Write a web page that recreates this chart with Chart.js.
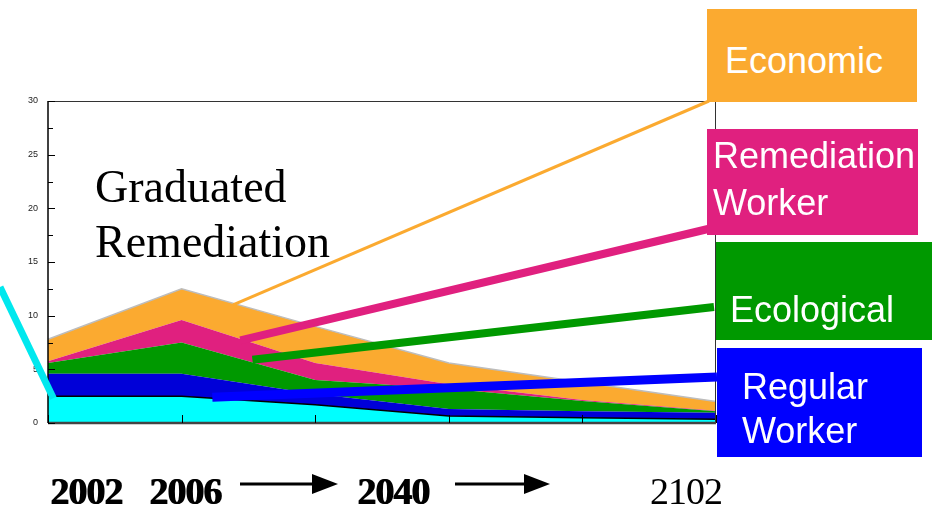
<!DOCTYPE html>
<html>
<head>
<meta charset="utf-8">
<script src="https://cdn.jsdelivr.net/npm/chart.js@4/dist/chart.umd.min.js"></script>
<style>
  html, body { margin: 0; padding: 0; background: #fff; }
  #wrap { position: relative; width: 942px; height: 519px; overflow: hidden; }
  #chart { position: absolute; left: 0; top: 0; }
  .title { position: absolute; left: 95px; top: 159px; font-family: 'Liberation Serif', 'Times New Roman', serif; font-size: 46px; line-height: 55px; color: #000; }
  .box { position: absolute; }
  .box span { position: absolute; font-family: 'Liberation Sans', Arial, sans-serif; font-size: 36px; line-height: 47px; color: #fff; white-space: nowrap; }
  .year { position: absolute; top: 468px; font-family: 'Liberation Serif', 'Times New Roman', serif; font-size: 38px; line-height: 46px; color: #000; letter-spacing: -1px; }
  .bold { font-weight: bold; text-shadow: 1px 0 0 #000; }
  #arrows { position: absolute; left: 0; top: 0; }
</style>
</head>
<body>
<div id="wrap">
  <canvas id="chart" width="942" height="519"></canvas>
  <div class="title">Graduated<br>Remediation</div>

  <div class="box" style="left:707px;top:9px;width:210px;height:93px;background:#fbaa30;">
    <span style="left:18px;top:28px;">Economic</span>
  </div>
  <div class="box" style="left:707px;top:129px;width:211px;height:106px;background:#e0207f;">
    <span style="left:6px;top:3px;">Remediation<br>Worker</span>
  </div>
  <div class="box" style="left:716px;top:242px;width:216px;height:98px;background:#009900;">
    <span style="left:14px;top:44px;">Ecological</span>
  </div>
  <div class="box" style="left:717px;top:348px;width:205px;height:109px;background:#0000ff;">
    <span style="left:25px;top:17px;line-height:44px;">Regular<br>Worker</span>
  </div>

  <div class="year bold" style="left:50px;">2002</div>
  <div class="year bold" style="left:149px;">2006</div>
  <div class="year bold" style="left:357px;">2040</div>
  <div class="year" style="left:650px;">2102</div>
  <svg id="arrows" width="942" height="519">
    <line x1="240" y1="484" x2="314" y2="484" stroke="#000" stroke-width="3"/>
    <polygon points="312,474 338,484 312,494" fill="#000"/>
    <line x1="455" y1="484" x2="526" y2="484" stroke="#000" stroke-width="3"/>
    <polygon points="524,474 550,484 524,494" fill="#000"/>
  </svg>
</div>
<script>
// six points along the time line (stacked layers)
const categories = ['2002', '2006', '2020', '2040', '2070', '2102'];
const regularBase = [2.5, 2.5, 1.7, 0.65, 0.5, 0.35];
const regularWorker = [2.1, 2.1, 1.0, 0.65, 0.6, 0.6];
const ecological = [1.0, 2.9, 1.3, 1.9, 0.95, 0.15];
const remediationWorker = [0.15, 2.1, 1.6, 0.4, 0.1, 0.05];
const economic = [2.05, 2.9, 3.4, 2.0, 1.65, 0.85];
const yTicks = [0, 5, 10, 15, 20, 25, 30];

// leader lines: inner end in data units (index, value), outer end at the label box
const leaders = [
  { color: '#00e8ee', width: 7, idx: 0.04, val: 2.3, to: [0, 287] },
  { color: '#fbaa30', width: 3, idx: 1.385, val: 11.0, to: [709, 101] },
  { color: '#e0207f', width: 8, idx: 1.44, val: 7.7, to: [708, 229] },
  { color: '#009900', width: 8, idx: 1.53, val: 5.9, to: [714, 307] },
  { color: '#0000ff', width: 9, idx: 1.23, val: 2.4, to: [717, 377] }
];

const frame = {
  id: 'frame',
  afterDatasetsDraw(chart) {
    const ctx = chart.ctx;
    const a = chart.chartArea;
    const x = chart.scales.x, y = chart.scales.y;
    ctx.save();
    ctx.strokeStyle = '#333';
    ctx.lineWidth = 1;
    ctx.beginPath();
    ctx.moveTo(a.left, a.top + 0.5); ctx.lineTo(a.right, a.top + 0.5);
    ctx.moveTo(a.right - 0.5, a.top); ctx.lineTo(a.right - 0.5, a.bottom);
    ctx.stroke();
    ctx.strokeStyle = '#000';
    ctx.lineWidth = 1.5;
    ctx.beginPath();
    ctx.moveTo(a.left, a.top); ctx.lineTo(a.left, a.bottom);
    ctx.stroke();
    ctx.strokeStyle = '#444';
    ctx.lineWidth = 2.5;
    ctx.beginPath();
    ctx.moveTo(a.left, a.bottom); ctx.lineTo(a.right, a.bottom);
    ctx.stroke();
    // inward ticks
    ctx.strokeStyle = '#000';
    ctx.lineWidth = 1;
    ctx.beginPath();
    for (const t of y.ticks) {
      const py = Math.round(y.getPixelForValue(t.value)) + 0.5;
      const len = t.value % 5 === 0 ? 7 : 5;
      ctx.moveTo(a.left, py); ctx.lineTo(a.left + len, py);
    }
    for (let i = 0; i < categories.length; i++) {
      const px = Math.round(x.getPixelForValue(i)) + 0.5;
      ctx.moveTo(px, a.bottom); ctx.lineTo(px, a.bottom - 8);
    }
    ctx.stroke();
    // leader lines
    for (const l of leaders) {
      ctx.strokeStyle = l.color;
      ctx.lineWidth = l.width;
      ctx.beginPath();
      ctx.moveTo(x.getPixelForValue(l.idx), y.getPixelForValue(l.val));
      ctx.lineTo(l.to[0], l.to[1]);
      ctx.stroke();
    }
    ctx.restore();
  }
};

function layer(data, color, fill, border, bw) {
  return {
    data: data,
    backgroundColor: color,
    borderColor: border || color,
    borderWidth: bw || 0,
    fill: fill,
    pointRadius: 0,
    tension: 0
  };
}

new Chart(document.getElementById('chart'), {
  type: 'line',
  data: {
    labels: categories,
    datasets: [
      layer(regularBase, '#00ffff', 'origin', '#000', 1.5),
      layer(regularWorker, '#0000d8', '-1'),
      layer(ecological, '#009900', '-1'),
      layer(remediationWorker, '#e0207f', '-1'),
      layer(economic, '#fbaa30', '-1', '#bdbdbd', 1.5)
    ]
  },
  options: {
    responsive: false,
    animation: false,
    layout: { padding: { left: 0, top: 101, right: 226, bottom: 96 } },
    plugins: { legend: { display: false }, tooltip: { enabled: false } },
    scales: {
      x: {
        offset: false,
        grid: { display: false, drawTicks: false },
        border: { display: false },
        ticks: { display: false },
        afterFit(s) { s.height = 0; }
      },
      y: {
        stacked: true,
        min: 0,
        max: 30,
        grid: { display: false, drawTicks: false },
        border: { display: false },
        ticks: {
          stepSize: 2.5,
          padding: 10,
          color: '#222',
          font: { family: 'Liberation Sans', size: 9 },
          callback: v => yTicks.includes(v) ? v : ''
        },
        afterFit(s) { s.width = 48; }
      }
    }
  },
  plugins: [frame]
});
</script>
</body>
</html>
